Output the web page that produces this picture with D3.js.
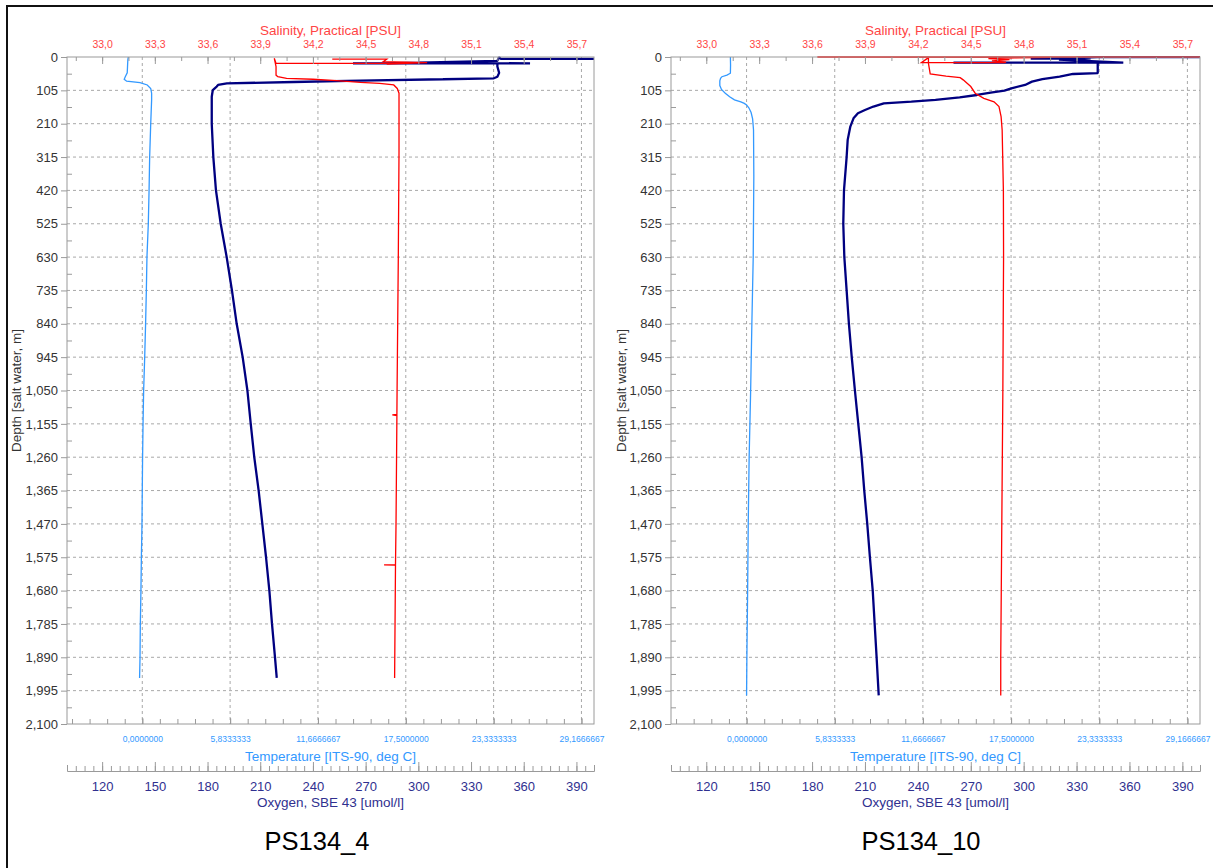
<!DOCTYPE html>
<html>
<head>
<meta charset="utf-8">
<script src="https://cdn.jsdelivr.net/npm/d3@7"></script>
<style>
  body { margin: 0; background: #fff; }
  svg { display: block; font-family: "Liberation Sans", Arial, sans-serif; }
</style>
</head>
<body>
<svg id="chart" width="1213" height="868"></svg>
<script>

// stations
var stations = ["PS134_4", "PS134_10"];

// tick labels
var depthTicks = [0, 105, 210, 315, 420, 525, 630, 735, 840, 945, 1050, 1155, 1260, 1365, 1470, 1575, 1680, 1785, 1890, 1995, 2100];
var salTicks = [33.0, 33.3, 33.6, 33.9, 34.2, 34.5, 34.8, 35.1, 35.4, 35.7];
var tempTicks = [0, 5.8333333, 11.6666667, 17.5, 23.3333333, 29.1666667];
var oxyTicks = [120, 150, 180, 210, 240, 270, 300, 330, 360, 390];

// PS134_4 : depth (m) and values
var temp4Depth = [0, 10, 30, 50, 62, 70, 76, 81, 88, 99, 114, 135, 210, 315, 420, 525, 630, 735, 840, 945, 1050, 1155, 1260, 1365, 1470, 1575, 1680, 1785, 1890, 1955];
var temp4 = [-0.93, -0.96, -0.98, -1.0, -1.13, -1.2, -1.04, -0.15, 0.33, 0.56, 0.62, 0.62, 0.56, 0.49, 0.45, 0.40, 0.31, 0.27, 0.22, 0.16, 0.09, 0.05, 0.02, 0.0, -0.02, -0.06, -0.09, -0.13, -0.15, -0.18];

var sal4Depth = [7, 7, 15, 18, 22, 20, 20, 4, 30, 57, 62, 67, 70, 74.5, 80, 83, 88, 99, 114, 300, 630, 1050, 1125, 1127, 1129, 1470, 1598, 1599, 1600, 1955];
var sal4 = [34.31, 34.62, 34.6, 34.85, 34.62, 34.72, 33.99, 33.98, 33.99, 33.99, 34.0, 34.05, 34.2, 34.335, 34.47, 34.58, 34.66, 34.68, 34.69, 34.69, 34.686, 34.679, 34.678, 34.652, 34.678, 34.673, 34.67, 34.605, 34.67, 34.665];

var oxy4Depth = [6, 6, 1, 12, 18, 20, 19, 20, 20, 20, 30, 50, 62, 67, 70, 74.5, 78.7, 83, 88, 93, 104, 125, 210, 315, 420, 525, 630, 735, 840, 945, 1050, 1155, 1260, 1365, 1470, 1575, 1680, 1785, 1890, 1955];
var oxy4 = [410, 347, 346, 345, 300, 281, 314, 363.6, 262.8, 345, 345, 346, 345, 343, 314, 267, 229, 191, 186, 185.2, 183, 182.4, 182.4, 183.3, 184.8, 187.5, 190.9, 193.9, 196.6, 200, 202.7, 204.6, 206.6, 209.1, 211.2, 213.3, 215.2, 216.7, 218.4, 219.4];

// PS134_10 : depth (m) and values
var temp10Depth = [0, 25, 51, 57, 62, 67, 75, 90, 102, 114, 125, 135, 141, 146, 151, 160, 175, 195, 230, 375, 630, 840, 1050, 1260, 1470, 1680, 1890, 2010];
var temp10 = [-1.07, -1.06, -1.07, -1.3, -1.63, -1.72, -1.77, -1.77, -1.66, -1.41, -1.12, -0.8, -0.38, -0.15, 0.0, 0.15, 0.3, 0.4, 0.46, 0.48, 0.44, 0.35, 0.27, 0.17, 0.11, 0.07, 0.02, 0.0];

var sal10Depth = [0, 0, 1, 3, 5, 8, 12, 16, 18, 18, 2, 20, 53, 60, 65, 72, 93, 114, 130, 141, 156, 188, 230, 420, 630, 1050, 1470, 1890, 2010];
var sal10 = [35.9, 33.63, 34.95, 34.75, 34.6, 34.72, 34.62, 34.7, 34.69, 34.22, 34.26, 34.26, 34.27, 34.36, 34.44, 34.457, 34.5, 34.525, 34.574, 34.632, 34.66, 34.672, 34.678, 34.685, 34.686, 34.682, 34.676, 34.67, 34.67];

var oxy10Depth = [0, 0, 3, 5, 4, 8, 18, 18, 18, 30, 51, 53.5, 62, 70, 77.6, 88, 98.6, 106, 112, 119.6, 127, 135, 140.6, 146, 156, 167, 177, 193, 219, 261, 315, 420, 525, 630, 735, 840, 945, 1050, 1155, 1260, 1365, 1470, 1575, 1680, 1785, 1890, 2010];
var oxy10 = [410, 342, 330, 304, 338, 320, 356.5, 260.2, 342, 342, 342, 328, 320.4, 310.6, 304.7, 300.8, 293, 289.1, 281.3, 273.5, 263.7, 250, 236.3, 220.7, 214.8, 210, 206, 203.5, 201.7, 200.2, 199.6, 198.1, 197.7, 198.3, 199.6, 200.9, 202.5, 204.3, 206.2, 208.1, 209.6, 211.3, 212.8, 214.4, 215.5, 216.6, 217.8];

// minor ticks
var depthMinor = depthTicks.slice(0, -1).map(function(d) { return d + 52.5; });
var salMinor = d3.range(0, 20).map(function(i) { return 32.85 + i * 0.15; });
var tempMinor = d3.range(-4, 26).map(function(i) { return i * 35 / 30; });
var oxyMinor = d3.range(1, 60).map(function(i) { return 100 + i * 5; });

var plotTop = 57, plotBottom = 724;
var axisColor = "#9a9a9a", gridColor = "#a8a8a8";
var salColor = "#ff0000", tempColor = "#3399ff", oxyColor = "#000080";
var oxyText = "#30308f", salText = "#ff4545";

var svg = d3.select("#chart");

// outer frame
svg.append("line").attr("x1", 6).attr("x2", 1213).attr("y1", 6).attr("y2", 6)
  .attr("stroke", "#111").attr("stroke-width", 2);
svg.append("line").attr("x1", 7).attr("x2", 7).attr("y1", 5).attr("y2", 868)
  .attr("stroke", "#111").attr("stroke-width", 2);

var panels = [
  {name: stations[0], left: 67, right: 594, titleX: 21, labelX: 317,
   temp: [temp4Depth, temp4], sal: [sal4Depth, sal4], oxy: [oxy4Depth, oxy4]},
  {name: stations[1], left: 671, right: 1200, titleX: 626, labelX: 921,
   temp: [temp10Depth, temp10], sal: [sal10Depth, sal10], oxy: [oxy10Depth, oxy10]}
];

function styleAxis(sel, color, size) {
  sel.attr("font-family", null).attr("font-size", size || 10);
  sel.select(".domain").remove();
  sel.selectAll(".tick line").attr("stroke", axisColor);
  sel.selectAll("text").attr("fill", color || "#333");
}

var comma = function(d) { return d.toFixed(1).replace(".", ","); };
var comma7 = function(d) { return d.toFixed(7).replace(".", ","); };

panels.forEach(function(p, i) {
  var g = svg.append("g");
  var mid = (p.left + p.right) / 2;

  var y = d3.scaleLinear().domain([0, 2100]).range([plotTop, plotBottom]);
  var xT = d3.scaleLinear().domain([-5, 30]).range([p.left, p.right]);
  var xS = d3.scaleLinear().domain([32.8, 35.8]).range([p.left, p.right]);
  var xO = d3.scaleLinear().domain([100, 400]).range([p.left, p.right]);

  // grid
  g.append("g").selectAll("line").data(depthTicks.slice(1, -1)).join("line")
    .attr("x1", p.left).attr("x2", p.right)
    .attr("y1", function(d) { return y(d); }).attr("y2", function(d) { return y(d); })
    .attr("stroke", gridColor).attr("stroke-dasharray", "3,3");
  g.append("g").selectAll("line").data(tempTicks).join("line")
    .attr("x1", function(d) { return xT(d); }).attr("x2", function(d) { return xT(d); })
    .attr("y1", plotTop).attr("y2", plotBottom)
    .attr("stroke", gridColor).attr("stroke-dasharray", "3,3");

  // profiles
  svg.append("clipPath").attr("id", "clip" + i).append("rect")
    .attr("x", p.left).attr("y", plotTop - 1)
    .attr("width", p.right - p.left).attr("height", plotBottom - plotTop + 1);
  var lines = g.append("g").attr("clip-path", "url(#clip" + i + ")").attr("fill", "none");

  function profile(series, x) {
    var depths = series[0], vals = series[1];
    return d3.line()
      .x(function(d, j) { return x(vals[j]); })
      .y(function(d) { return y(d); })(depths);
  }
  lines.append("path").attr("d", profile(p.temp, xT)).attr("stroke", tempColor).attr("stroke-width", 1.3);
  lines.append("path").attr("d", profile(p.oxy, xO)).attr("stroke", oxyColor).attr("stroke-width", 2.3)
    .attr("stroke-linejoin", "bevel");
  lines.append("path").attr("d", profile(p.sal, xS)).attr("stroke", salColor).attr("stroke-width", 1.3);

  // plot frame
  g.append("rect").attr("x", p.left).attr("y", plotTop)
    .attr("width", p.right - p.left).attr("height", plotBottom - plotTop)
    .attr("fill", "none").attr("stroke", axisColor);

  // depth axis
  g.append("g").attr("transform", "translate(" + p.left + ",0)")
    .call(d3.axisLeft(y).tickValues(depthTicks).tickFormat(d3.format(",")).tickSize(6).tickPadding(3))
    .call(styleAxis, "#333", 13);
  g.append("g").attr("transform", "translate(" + p.left + ",0)")
    .call(d3.axisRight(y).tickValues(depthMinor).tickFormat("").tickSize(5))
    .call(styleAxis);
  g.append("text")
    .attr("transform", "translate(" + p.titleX + "," + ((plotTop + plotBottom) / 2) + ") rotate(-90)")
    .attr("text-anchor", "middle").attr("font-size", 13.5).attr("fill", "#333")
    .text("Depth [salt water, m]");

  // salinity axis (top)
  g.append("g").attr("transform", "translate(0," + plotTop + ")")
    .call(d3.axisTop(xS).tickValues(salTicks).tickFormat(comma).tickSizeInner(-7).tickSizeOuter(0).tickPadding(9.5))
    .call(styleAxis, salText, 10.5);
  g.append("g").attr("transform", "translate(0," + plotTop + ")")
    .call(d3.axisTop(xS).tickValues(salMinor).tickFormat("").tickSize(-4))
    .call(styleAxis);
  g.append("text").attr("x", mid).attr("y", 35).attr("text-anchor", "middle")
    .attr("font-size", 13.5).attr("fill", salText).text("Salinity, Practical [PSU]");

  // temperature axis (bottom)
  g.append("g").attr("transform", "translate(0," + plotBottom + ")")
    .call(d3.axisBottom(xT).tickValues(tempTicks).tickFormat(comma7).tickSizeInner(-6).tickSizeOuter(0).tickPadding(12))
    .call(styleAxis, tempColor, 8.5);
  g.append("g").attr("transform", "translate(0," + plotBottom + ")")
    .call(d3.axisBottom(xT).tickValues(tempMinor).tickFormat("").tickSize(-5))
    .call(styleAxis);
  g.append("text").attr("x", mid).attr("y", 760.5).attr("text-anchor", "middle")
    .attr("font-size", 13.5).attr("fill", tempColor).text("Temperature [ITS-90, deg C]");

  // oxygen axis (separate, below)
  var oxyAxis = g.append("g").attr("transform", "translate(0,771)")
    .call(d3.axisBottom(xO).tickValues(oxyTicks).tickSizeInner(-9).tickSizeOuter(-6).tickPadding(11))
    .attr("font-family", null).attr("font-size", 13);
  oxyAxis.select(".domain").attr("stroke", axisColor);
  oxyAxis.selectAll(".tick line").attr("stroke", axisColor);
  oxyAxis.selectAll("text").attr("fill", oxyText);
  g.append("g").attr("transform", "translate(0,771)")
    .call(d3.axisBottom(xO).tickValues(oxyMinor).tickFormat("").tickSize(-5))
    .call(styleAxis);
  g.append("text").attr("x", mid).attr("y", 807).attr("text-anchor", "middle")
    .attr("font-size", 13.5).attr("fill", oxyText).text("Oxygen, SBE 43 [umol/l]");

  // station label
  g.append("text").attr("x", p.labelX).attr("y", 850).attr("text-anchor", "middle")
    .attr("font-size", 25.5).attr("fill", "#000").text(p.name);
});

</script>
</body>
</html>
